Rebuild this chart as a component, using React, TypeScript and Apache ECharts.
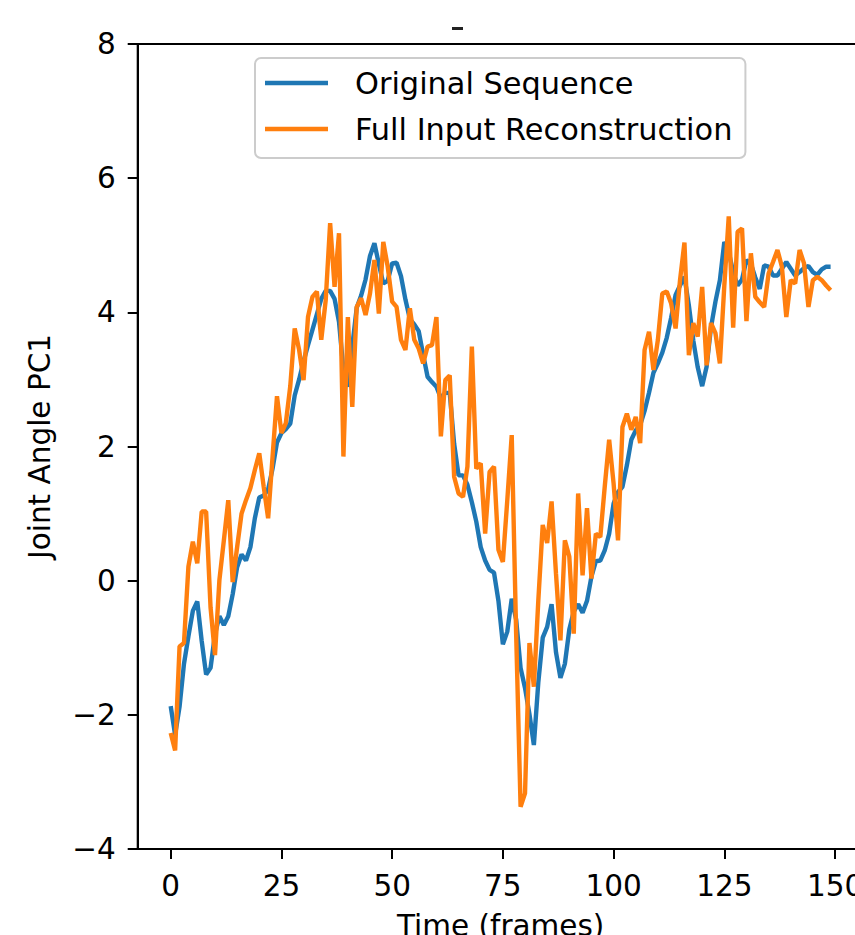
import React, { useEffect, useRef } from "react";
import * as echarts from "echarts";

const frameCount = 150;
const xTickValues = [0, 25, 50, 75, 100, 125, 150];

const originalSequence = [
  -1.87, -2.3, -1.88, -1.24, -0.83, -0.45, -0.31, -0.9, -1.4, -1.3,
  -0.8, -0.53, -0.66, -0.53, -0.2, 0.2, 0.39, 0.3, 0.5, 0.93,
  1.24, 1.27, 1.36, 1.67, 2.06, 2.2, 2.26, 2.34, 2.76, 3.0,
  3.27, 3.51, 3.74, 3.97, 4.2, 4.32, 4.32, 4.2, 3.86, 3.14,
  2.89, 3.49, 4.07, 4.25, 4.49, 4.84, 5.03, 4.72, 4.43, 4.47,
  4.73, 4.74, 4.54, 4.19, 3.9, 3.82, 3.72, 3.37, 3.04, 2.96,
  2.89, 2.72, 2.8, 2.8, 2.04, 1.57, 1.57, 1.43, 1.17, 0.88,
  0.5, 0.3, 0.16, 0.12, -0.3, -0.95, -0.76, -0.27, -0.58, -1.3,
  -1.6, -1.99, -2.45, -1.52, -0.85, -0.69, -0.35, -1.07, -1.45, -1.24,
  -0.73, -0.46, -0.35, -0.48, -0.3, 0.06, 0.29, 0.3, 0.45, 0.7,
  1.15, 1.32, 1.4, 1.72, 2.1, 2.24, 2.32, 2.53, 2.8, 3.1,
  3.24, 3.4, 3.62, 3.92, 4.26, 4.4, 4.53, 4.1, 3.58, 3.18,
  2.9, 3.19, 3.78, 4.16, 4.48, 5.05, 4.9, 4.6, 4.4, 4.49,
  4.78, 4.72, 4.52, 4.35, 4.7, 4.68, 4.55, 4.55, 4.65, 4.75,
  4.65, 4.55, 4.6, 4.66, 4.69, 4.6, 4.56, 4.64, 4.68, 4.68,
];

const fullInputReconstruction = [
  -2.27, -2.53, -0.98, -0.93, 0.21, 0.58, 0.26, 1.03, 1.03, -0.4,
  -1.11, 0.01, 0.6, 1.2, -0.02, 0.5, 1.0, 1.2, 1.38, 1.65,
  1.9, 1.4, 0.93, 1.85, 2.75, 2.2, 2.35, 2.9, 3.76, 3.44,
  2.99, 3.93, 4.23, 4.31, 3.59, 4.18, 5.33, 4.38, 5.18, 1.85,
  3.93, 2.59, 4.08, 4.21, 3.96, 4.28, 4.78, 3.98, 5.05, 4.68,
  4.16, 4.08, 3.59, 3.44, 4.06, 3.59, 3.46, 3.24, 3.49, 3.51,
  3.93, 2.15, 2.99, 3.06, 1.55, 1.3, 1.25, 1.7, 3.49, 1.67,
  1.75, 0.7, 1.62, 1.7, 0.46, 0.28, 1.2, 2.17, -0.79, -3.37,
  -3.17, -0.93, -1.58, -0.3, 0.83, 0.56, 1.18, 0.1, -0.89, 0.6,
  0.36, -0.79, 1.3, 0.08, 1.08, 0.03, 0.7, 0.65, 1.4, 2.1,
  1.45, 0.6, 2.29, 2.49, 2.25, 2.44, 2.05, 3.44, 3.71, 3.14,
  3.59, 4.28, 4.31, 4.13, 3.76, 4.48, 5.04, 3.36, 3.84, 3.64,
  4.38, 3.21, 3.84, 3.69, 3.24, 4.4, 5.43, 3.77, 5.2, 5.25,
  3.87, 4.88, 4.23, 4.15, 4.08, 4.58, 4.75, 4.93, 4.68, 3.93,
  4.48, 4.43, 4.93, 4.73, 4.08, 4.48, 4.53, 4.48, 4.4, 4.33,
];

const FONT = "DejaVu Sans";
const fmt = (v: number) => (v < 0 ? "\u2212" + Math.abs(v) : String(v));

export default function App() {
  const ref = useRef<HTMLDivElement>(null);
  useEffect(() => {
    if (!ref.current) return;
    const chart = echarts.init(ref.current, undefined, { renderer: "svg" });
    const toPairs = (arr: number[]) => arr.map((v, i) => [i, v]);
    const margin = 0.05 * (frameCount - 1);
    chart.setOption({
      animation: false,
      backgroundColor: "#ffffff",
      grid: {
        left: 137.7,
        top: 44,
        width: 725.9,
        height: 805,
        containLabel: false,
        outerBoundsMode: "none",
        show: true,
        borderColor: "#000",
        borderWidth: 2,
        backgroundColor: "transparent",
      },
      legend: {
        orient: "vertical",
        left: 255,
        top: 58,
        padding: [10, 13, 14, 10],
        itemGap: 16,
        itemWidth: 63,
        itemHeight: 4.4,
        icon: "rect",
        selectedMode: false,
        borderColor: "#cccccc",
        borderWidth: 2,
        borderRadius: 6,
        backgroundColor: "rgba(255,255,255,0.8)",
        textStyle: {
          fontFamily: FONT,
          fontSize: 30.4,
          color: "#000",
          padding: [0, 0, 0, 22],
        },
        data: ["Original Sequence", "Full Input Reconstruction"],
      },
      graphic: [
        {
          type: "rect",
          shape: { x: 452, y: 27, width: 11, height: 3 },
          style: { fill: "#222" },
        },
      ],
      xAxis: {
        type: "value",
        min: -margin,
        max: frameCount - 1 + margin,
        name: "Time (frames)",
        nameLocation: "middle",
        nameGap: 62,
        nameTextStyle: { fontFamily: FONT, fontSize: 29.5, color: "#000" },
        axisLine: { show: true, onZero: false, lineStyle: { color: "#000", width: 2 } },
        axisTick: {
          show: true,
          length: 10,
          lineStyle: { color: "#000", width: 2 },
          customValues: xTickValues,
        },
        axisLabel: {
          fontFamily: FONT,
          fontSize: 29.5,
          color: "#000",
          margin: 22,
          customValues: xTickValues,
          formatter: (v: number) => fmt(v),
        },
        splitLine: { show: false },
      },
      yAxis: {
        type: "value",
        min: -4,
        max: 8,
        interval: 2,
        name: "Joint Angle PC1",
        nameLocation: "middle",
        nameGap: 83,
        nameTextStyle: { fontFamily: FONT, fontSize: 29.5, color: "#000" },
        axisLine: { show: true, onZero: false, lineStyle: { color: "#000", width: 2 } },
        axisTick: { show: true, length: 10, lineStyle: { color: "#000", width: 2 } },
        axisLabel: {
          fontFamily: FONT,
          fontSize: 29.5,
          color: "#000",
          margin: 22,
          formatter: (v: number) => fmt(v),
        },
        splitLine: { show: false },
      },
      series: [
        {
          name: "Original Sequence",
          type: "line",
          data: toPairs(originalSequence),
          showSymbol: false,
          symbol: "none",
          lineStyle: { color: "#1f77b4", width: 4.4 },
          itemStyle: { color: "#1f77b4" },
          z: 2,
        },
        {
          name: "Full Input Reconstruction",
          type: "line",
          data: toPairs(fullInputReconstruction),
          showSymbol: false,
          symbol: "none",
          lineStyle: { color: "#ff7f0e", width: 4.4 },
          itemStyle: { color: "#ff7f0e" },
          z: 3,
        },
      ],
    });
    return () => chart.dispose();
  }, []);
  return (
    <div
      style={{
        position: "fixed",
        left: 0,
        top: 0,
        width: 855,
        height: 935,
        overflow: "hidden",
        background: "#fff",
      }}
    >
      <div ref={ref} style={{ width: 855, height: 935 }} />
    </div>
  );
}
